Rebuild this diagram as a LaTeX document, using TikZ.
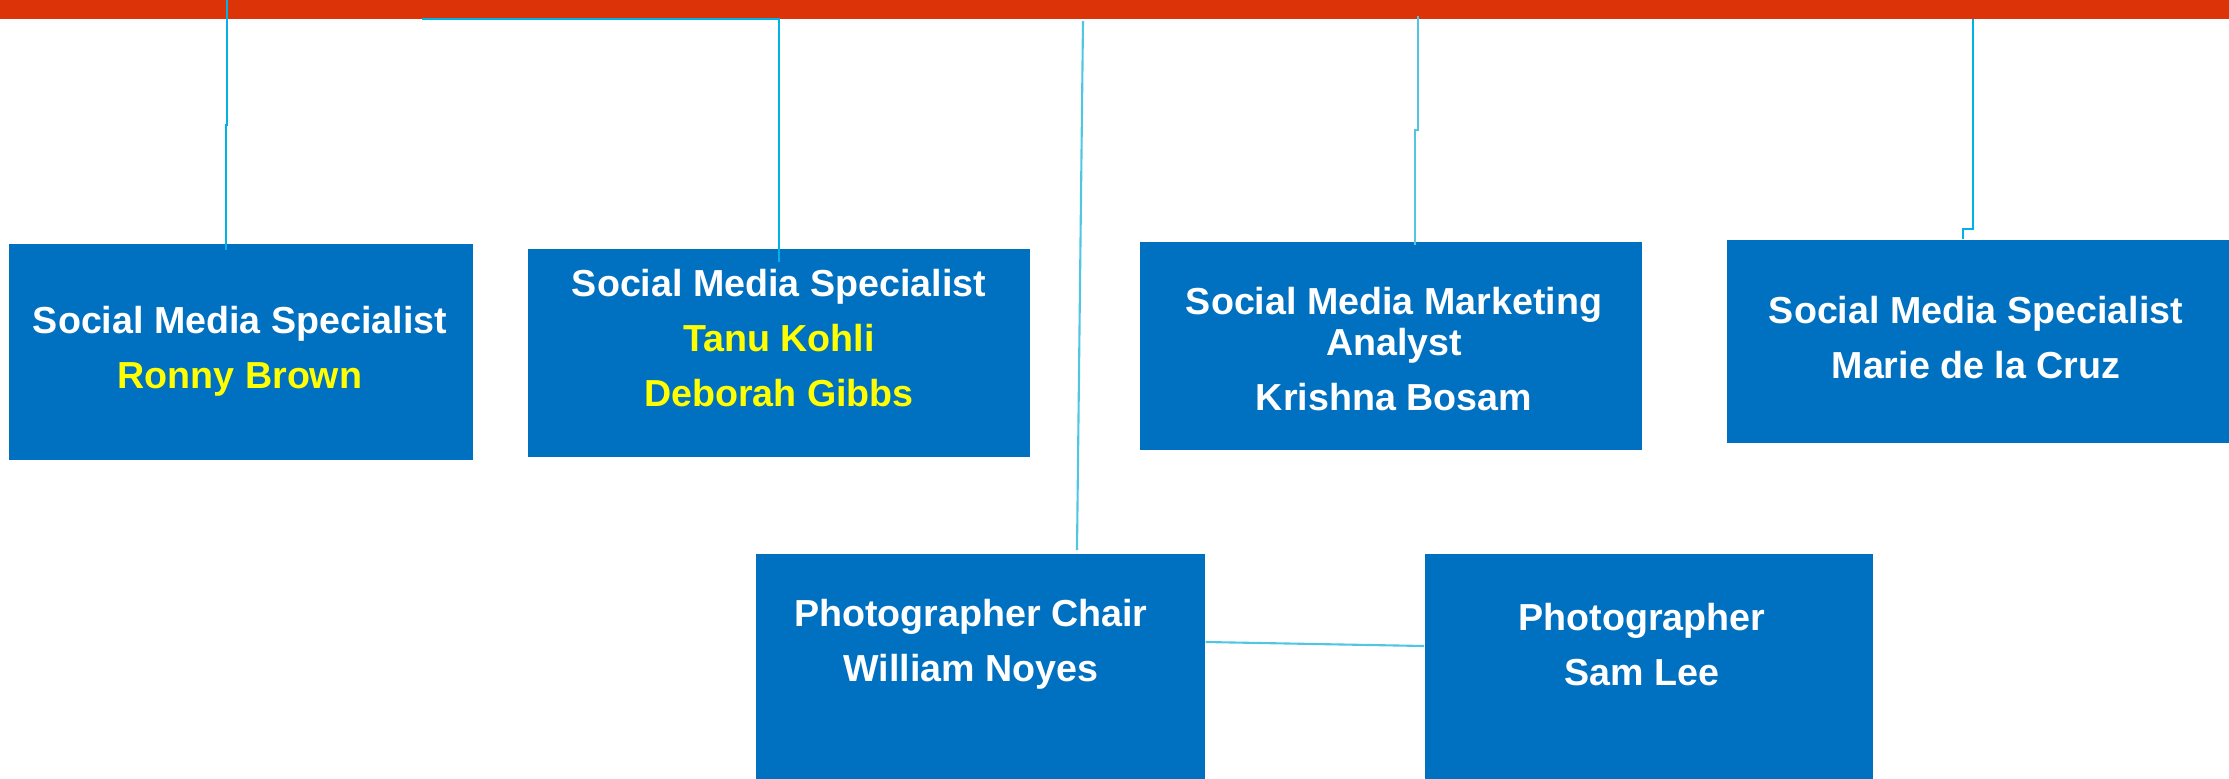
\documentclass[tikz,border=0pt]{standalone}
\usepackage{fontspec}
\setmainfont{Liberation Sans}
\definecolor{barred}{RGB}{221,51,9}
\definecolor{boxblue}{RGB}{0,112,192}
\definecolor{linkcyan}{RGB}{0,178,230}
\definecolor{linklight}{RGB}{80,198,226}
\definecolor{nameyellow}{RGB}{255,255,0}

\tikzstyle{role} = [rectangle, anchor=north west, inner sep=0pt, fill=boxblue]
\tikzstyle{label} = [anchor=base, inner sep=0pt, align=center, text=white, font=\fontsize{10.7}{15.5}\selectfont\bfseries]
\tikzstyle{link} = [line width=0.6pt, draw=linkcyan]
\tikzstyle{linklt} = [line width=0.6pt, draw=linklight]

\begin{document}
\begin{tikzpicture}[x=0.01cm, y=-0.01cm]
			\useasboundingbox (0,0) rectangle (2229,778);
			\fill [barred] (0,0) rectangle (2229,19);

			\node (sm1) [role, minimum width=4.64cm, minimum height=2.16cm] at (8,243) {};
			\node (sm2) [role, minimum width=5.02cm, minimum height=2.08cm] at (527,248) {};
			\node (sm3) [role, minimum width=5.02cm, minimum height=2.08cm] at (1139,241) {};
			\node (sm4) [role, minimum width=5.03cm, minimum height=2.03cm] at (1726,239) {};
			\node (ph1) [role, minimum width=4.49cm, minimum height=2.25cm] at (755,553) {};
			\node (ph2) [role, minimum width=4.48cm, minimum height=2.25cm] at (1424,553) {};

			\coordinate (top1) at (227,0);
			\coordinate (top2) at (422,19);
			\coordinate (top3) at (1083,21);
			\coordinate (top4) at (1418,16);
			\coordinate (top5) at (1973,19);

			\draw [link] (top1) -- (227,125) -- (226,125) -- (226,250);
			\draw [link] (top2) -- (779,19) -- (779,262);
			\draw [linklt] (top3) -- (1077,550);
			\draw [linklt] (top4) -- (1418,130) -- (1415,130) -- (1415,245);
			\draw [link] (top5) -- (1973,229) -- (1963,229) -- (sm4.north -| 1963,0);
			\draw [linklt] (ph1.east |- 0,642) -- (ph2.west |- 0,646);

			% anchor=base sits on the last line
			\node (t1) [label] at (240,388) {Social Media Specialist\\\textcolor{nameyellow}{Ronny Brown}};
			\node (t2) [label] at (779,406) {Social Media Specialist\\\textcolor{nameyellow}{Tanu Kohli}\\\textcolor{nameyellow}{Deborah Gibbs}};
			\node (t3) [label] at (1394,410) {Social Media Marketing\\[-3.8pt]Analyst\\Krishna Bosam};
			\node (t4) [label] at (1976,378) {Social Media Specialist\\Marie de la Cruz};
			\node (t5) [label] at (971,681) {Photographer Chair\\William Noyes};
			\node (t6) [label] at (1642,685) {Photographer\\Sam Lee};
		\end{tikzpicture}
\end{document}
